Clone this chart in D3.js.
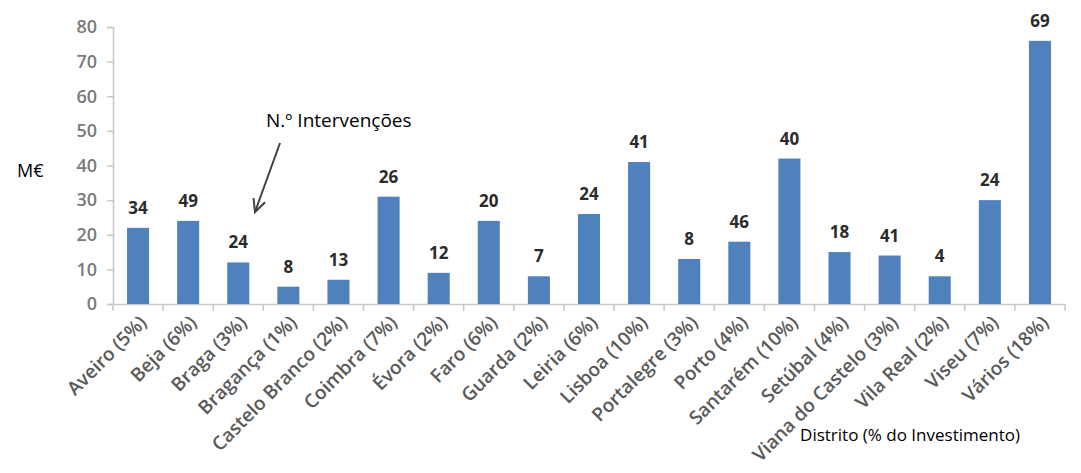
<!DOCTYPE html>
<html>
<head>
<meta charset="utf-8">
<script src="https://cdn.jsdelivr.net/npm/d3@7"></script>
<style>
  html, body { margin: 0; padding: 0; background: #fff; }
  svg { display: block; }
</style>
</head>
<body>
<svg id="chart" width="1081" height="473"></svg>
<script>
const categories = ["Aveiro (5%)","Beja (6%)","Braga (3%)","Bragança (1%)","Castelo Branco (2%)","Coimbra (7%)","Évora (2%)","Faro (6%)","Guarda (2%)","Leiria (6%)","Lisboa (10%)","Portalegre (3%)","Porto (4%)","Santarém (10%)","Setúbal (4%)","Viana do Castelo (3%)","Vila Real (2%)","Viseu (7%)","Vários (18%)"];
const investment = [22,24,12,5,7,31,9,24,8,26,41,13,18,42,15,14,8,30,76];
const interventions = [34,49,24,8,13,26,12,20,7,24,41,8,46,40,18,41,4,24,69];
const yTicks = [0,10,20,30,40,50,60,70,80];

const svg = d3.select("#chart");
const mLeft = 113, mRight = 1065, mTop = 27, mBottom = 304;

const x = d3.scaleBand().domain(categories).range([mLeft, mRight]).paddingInner(0.56).paddingOuter(0.28);
const xb = d3.scaleBand().domain(categories).range([mLeft, mRight]).padding(0);
const y = d3.scaleLinear().domain([0, 80]).range([mBottom, mTop]);

const axisColor = "#c8c8c8";
const font = "'Open Sans', 'Liberation Sans', sans-serif";

// Y axis
const yAxis = svg.append("g").attr("transform", `translate(${mLeft},0)`)
  .call(d3.axisLeft(y).tickValues(yTicks).tickSize(6).tickPadding(10));
yAxis.select(".domain").attr("stroke", axisColor).attr("stroke-width", 1.5);
yAxis.selectAll(".tick line").attr("stroke", axisColor).attr("stroke-width", 1.5);
yAxis.selectAll(".tick text").attr("fill", "#7a7a7a").attr("font-family", font)
  .attr("font-size", 18).attr("font-weight", 600);

// X axis: line + ticks between categories
const xAxis = svg.append("g").attr("transform", `translate(0,${mBottom})`)
  .call(d3.axisBottom(xb).tickSize(0).tickFormat(""));
xAxis.select(".domain").attr("stroke", axisColor).attr("stroke-width", 1.5);
xAxis.selectAll(".tick").remove();
const bounds = categories.map(c => xb(c)).concat([xb(categories[categories.length-1]) + xb.bandwidth()]);
xAxis.selectAll("line.sep").data(bounds).join("line").attr("class","sep")
  .attr("x1", d => d).attr("x2", d => d).attr("y1", 0).attr("y2", 7)
  .attr("stroke", axisColor).attr("stroke-width", 1.5);

// x labels
svg.append("g").selectAll("text").data(categories).join("text")
  .attr("transform", d => `translate(${x(d) + x.bandwidth()/2 + 5},${mBottom + 15}) rotate(-45)`)
  .attr("text-anchor", "end").attr("dy", "0.35em")
  .attr("fill", "#5a5a5a").attr("font-family", font).attr("font-size", 19).attr("font-weight", 600)
  .text(d => d);

// bars
svg.append("g").selectAll("rect").data(categories).join("rect")
  .attr("x", d => x(d)).attr("width", x.bandwidth())
  .attr("y", (d,i) => y(investment[i])).attr("height", (d,i) => y(0) - y(investment[i]))
  .attr("fill", "#4f81bd");

// value labels
svg.append("g").selectAll("text").data(categories).join("text")
  .attr("x", d => x(d) + x.bandwidth()/2)
  .attr("y", (d,i) => y(investment[i]) - 14)
  .attr("text-anchor", "middle").attr("fill", "#2b2b2b")
  .attr("font-family", font).attr("font-size", 17).attr("font-weight", 700)
  .text((d,i) => interventions[i]);

// annotations
svg.append("text").attr("x", 17).attr("y", 177).attr("font-family", font).attr("font-size", 18)
  .attr("fill", "#000").text("M€");
svg.append("text").attr("x", 266).attr("y", 127).attr("font-family", font).attr("font-size", 19)
  .attr("fill", "#000").text("N.º Intervenções");
svg.append("text").attr("x", 1020).attr("y", 441).attr("text-anchor", "end").attr("font-family", font).attr("font-size", 17)
  .attr("fill", "#000").text("Distrito (% do Investimento)");

// arrow
const ax1 = 280, ay1 = 143, ax2 = 255, ay2 = 212;
svg.append("line").attr("x1", ax1).attr("y1", ay1).attr("x2", ax2).attr("y2", ay2)
  .attr("stroke", "#404040").attr("stroke-width", 2);
const ang = Math.atan2(ay2 - ay1, ax2 - ax1);
const hl = 14, spread = 0.45;
const head = [
  [ax2 - hl*Math.cos(ang - spread), ay2 - hl*Math.sin(ang - spread)],
  [ax2, ay2],
  [ax2 - hl*Math.cos(ang + spread), ay2 - hl*Math.sin(ang + spread)]
];
svg.append("path").attr("d", d3.line()(head)).attr("fill", "none")
  .attr("stroke", "#404040").attr("stroke-width", 2);
</script>
</body>
</html>
